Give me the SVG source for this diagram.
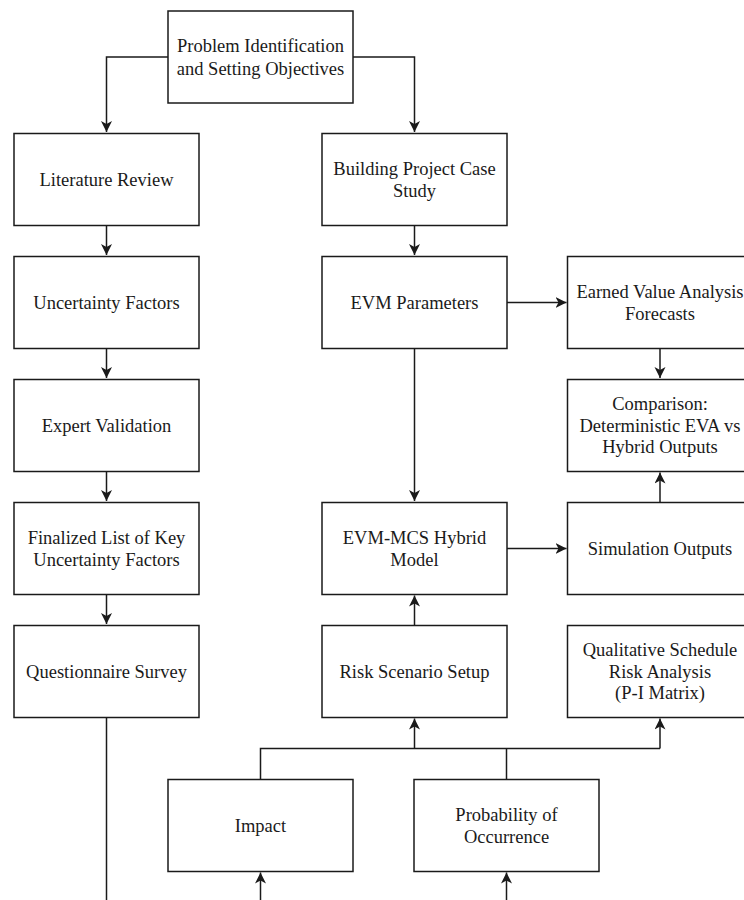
<svg xmlns="http://www.w3.org/2000/svg" width="744" height="900" viewBox="0 0 744 900">
<style>
.box{fill:#fff;stroke:#1a1a1a;stroke-width:1.5}
.lbl{font-family:"Liberation Serif","Times New Roman",serif;font-size:18.5px;fill:#1a1a1a;text-anchor:middle}
.c{fill:none;stroke:#1a1a1a;stroke-width:1.5}
</style>
<defs>
<marker id="ah" markerWidth="14" markerHeight="14" refX="11" refY="5.5" orient="auto" markerUnits="userSpaceOnUse">
<path d="M0,0 L11,5.5 L0,11 L3,5.5 z" fill="#1a1a1a"/>
</marker>
</defs>
<rect width="744" height="900" fill="#fff"/>
<g id="connectors">
<path class="c" d="M168,57 H106.5 V132" marker-end="url(#ah)"/>
<path class="c" d="M353,57 H414.5 V132" marker-end="url(#ah)"/>
<path class="c" d="M106.5,225.5 V255" marker-end="url(#ah)"/>
<path class="c" d="M106.5,348.5 V378" marker-end="url(#ah)"/>
<path class="c" d="M106.5,471.5 V501" marker-end="url(#ah)"/>
<path class="c" d="M106.5,594.5 V624" marker-end="url(#ah)"/>
<path class="c" d="M106.5,717.5 V900"/>
<path class="c" d="M414.5,225.5 V255" marker-end="url(#ah)"/>
<path class="c" d="M414.5,348.5 V501" marker-end="url(#ah)"/>
<path class="c" d="M507,302.5 H566.5" marker-end="url(#ah)"/>
<path class="c" d="M660,348.5 V378" marker-end="url(#ah)"/>
<path class="c" d="M660,502 V472.5" marker-end="url(#ah)"/>
<path class="c" d="M507,548.5 H566.5" marker-end="url(#ah)"/>
<path class="c" d="M414.5,625 V595.5" marker-end="url(#ah)"/>
<path class="c" d="M260.5,779 V748.5 H660"/>
<path class="c" d="M506.5,779 V748.5"/>
<path class="c" d="M414.5,748.5 V718.5" marker-end="url(#ah)"/>
<path class="c" d="M660,748.5 V718.5" marker-end="url(#ah)"/>
<path class="c" d="M260.5,900 V872.5" marker-end="url(#ah)"/>
<path class="c" d="M506.5,900 V872.5" marker-end="url(#ah)"/>
</g>
<g id="n-problem"><rect class="box" x="168" y="11" width="185" height="92"/><text class="lbl" x="260.5" y="52">Problem Identification</text><text class="lbl" x="260.5" y="74.5">and Setting Objectives</text></g>
<g id="n-literature"><rect class="box" x="14" y="133.5" width="185" height="92"/><text class="lbl" x="106.5" y="185.5">Literature Review</text></g>
<g id="n-uncertainty"><rect class="box" x="14" y="256.5" width="185" height="92"/><text class="lbl" x="106.5" y="308.5">Uncertainty Factors</text></g>
<g id="n-expert"><rect class="box" x="14" y="379.5" width="185" height="92"/><text class="lbl" x="106.5" y="431.5">Expert Validation</text></g>
<g id="n-finalized"><rect class="box" x="14" y="502.5" width="185" height="92"/><text class="lbl" x="106.5" y="543.5">Finalized List of Key</text><text class="lbl" x="106.5" y="566">Uncertainty Factors</text></g>
<g id="n-questionnaire"><rect class="box" x="14" y="625.5" width="185" height="92"/><text class="lbl" x="106.5" y="677.5">Questionnaire Survey</text></g>
<g id="n-building"><rect class="box" x="322" y="133.5" width="185" height="92"/><text class="lbl" x="414.5" y="174.5">Building Project Case</text><text class="lbl" x="414.5" y="197">Study</text></g>
<g id="n-evm"><rect class="box" x="322" y="256.5" width="185" height="92"/><text class="lbl" x="414.5" y="308.5">EVM Parameters</text></g>
<g id="n-hybrid"><rect class="box" x="322" y="502.5" width="185" height="92"/><text class="lbl" x="414.5" y="543.5">EVM-MCS Hybrid</text><text class="lbl" x="414.5" y="566">Model</text></g>
<g id="n-risk"><rect class="box" x="322" y="625.5" width="185" height="92"/><text class="lbl" x="414.5" y="677.5">Risk Scenario Setup</text></g>
<g id="n-eva"><rect class="box" x="567.5" y="256.5" width="185" height="92"/><text class="lbl" x="660" y="297.5">Earned Value Analysis</text><text class="lbl" x="660" y="320">Forecasts</text></g>
<g id="n-comparison"><rect class="box" x="567.5" y="379.5" width="185" height="92"/><text class="lbl" x="660" y="410">Comparison:</text><text class="lbl" x="660" y="431.5">Deterministic EVA vs</text><text class="lbl" x="660" y="453">Hybrid Outputs</text></g>
<g id="n-simulation"><rect class="box" x="567.5" y="502.5" width="185" height="92"/><text class="lbl" x="660" y="554.5">Simulation Outputs</text></g>
<g id="n-qualitative"><rect class="box" x="567.5" y="625.5" width="185" height="92"/><text class="lbl" x="660" y="656">Qualitative Schedule</text><text class="lbl" x="660" y="677.5">Risk Analysis</text><text class="lbl" x="660" y="699">(P-I Matrix)</text></g>
<g id="n-impact"><rect class="box" x="168" y="779.5" width="185" height="92"/><text class="lbl" x="260.5" y="831.5">Impact</text></g>
<g id="n-probability"><rect class="box" x="414" y="779.5" width="185" height="92"/><text class="lbl" x="506.5" y="820.5">Probability of</text><text class="lbl" x="506.5" y="843">Occurrence</text></g>
</svg>
